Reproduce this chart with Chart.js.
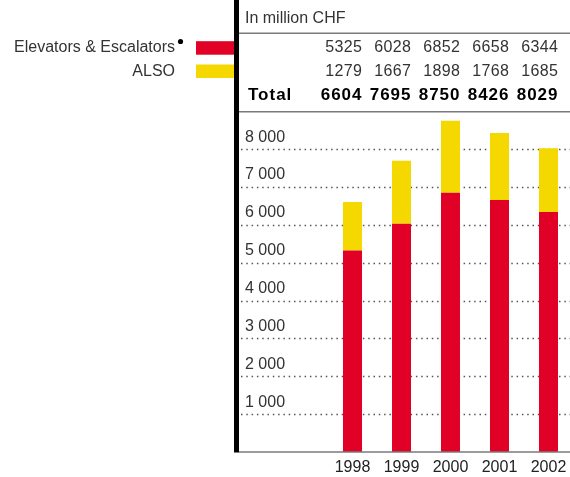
<!DOCTYPE html>
<html>
<head>
<meta charset="utf-8">
<script src="https://cdn.jsdelivr.net/npm/chart.js@4"></script>
<style>
  html, body { margin: 0; padding: 0; overflow: hidden; background: #fff; width: 570px; height: 477px; }
  #wrap { position: absolute; left: 0; top: 0; width: 580px; height: 477px; }
</style>
</head>
<body>
<div id="wrap"><canvas id="c"></canvas></div>
<script>
// ---- data ----
const years = ['1998', '1999', '2000', '2001', '2002'];
const seriesNames = ['Elevators & Escalators', 'ALSO'];
const elevators = [5325, 6028, 6852, 6658, 6344];
const also = [1279, 1667, 1898, 1768, 1685];
const totals = [6604, 7695, 8750, 8426, 8029];
const yTicks = [1000, 2000, 3000, 4000, 5000, 6000, 7000, 8000];
const unitTitle = 'In million CHF';
const totalLabel = 'Total';
const footnoteMark = '•';

const RED = '#e10026';
const YELLOW = '#f5d800';
const FONT = '"Liberation Sans", Arial, Helvetica, sans-serif';

function fmt(v) {
  const s = String(v);
  return s.length > 3 ? s.slice(0, s.length - 3) + ' ' + s.slice(-3) : s;
}

const decor = {
  id: 'decor',
  beforeDatasetsDraw(chart) {
    const ctx = chart.ctx;
    const y = chart.scales.y;
    ctx.save();
    // dotted gridlines
    ctx.strokeStyle = '#555';
    ctx.lineWidth = 1.3;
    ctx.setLineDash([1.5, 3.8]);
    yTicks.forEach(v => {
      const py = Math.round(y.getPixelForValue(v)) + 0.5;
      ctx.beginPath();
      ctx.moveTo(241, py);
      ctx.lineTo(572, py);
      ctx.stroke();
    });
    ctx.setLineDash([]);
    // tick labels
    ctx.fillStyle = '#333';
    ctx.font = '16px ' + FONT;
    ctx.textAlign = 'left';
    ctx.textBaseline = 'middle';
    yTicks.forEach(v => {
      const py = y.getPixelForValue(v);
      ctx.fillText(fmt(v), 245, py - 12);
    });
    ctx.restore();
  },
  afterDraw(chart) {
    const ctx = chart.ctx;
    const x = chart.scales.x;
    const y = chart.scales.y;
    ctx.save();
    // black vertical bar
    ctx.fillStyle = '#000';
    ctx.fillRect(234, 0, 5, y.getPixelForValue(0) + 0.5);
    // grey rules
    ctx.strokeStyle = '#7a7a7a';
    ctx.lineWidth = 1.6;
    [33.3, 111.8].forEach(py => {
      ctx.beginPath(); ctx.moveTo(239, py); ctx.lineTo(572, py); ctx.stroke();
    });
    ctx.beginPath();
    const by = y.getPixelForValue(0);
    ctx.moveTo(239, by); ctx.lineTo(572, by); ctx.stroke();

    // header
    ctx.fillStyle = '#333';
    ctx.font = '16px ' + FONT;
    ctx.textBaseline = 'middle';
    ctx.textAlign = 'left';
    ctx.fillText(unitTitle, 245, 18.5);

    // legend
    const rowsY = [48, 71.3];
    const colors = [RED, YELLOW];
    ctx.textAlign = 'right';
    seriesNames.forEach((n, i) => {
      ctx.fillStyle = '#333';
      ctx.font = '16px ' + FONT;
      ctx.fillText(n, 175, rowsY[i]);
      ctx.fillStyle = colors[i];
      ctx.fillRect(196, rowsY[i] - 6.8, 38, 13.5);
    });
    ctx.fillStyle = '#000';
    ctx.beginPath();
    ctx.arc(180.5, 41.5, 2.6, 0, Math.PI * 2);
    ctx.fill();

    // table values
    const meta = chart.getDatasetMeta(0);
    const rightOf = i => meta.data[i].x + meta.data[i].width / 2;
    ctx.textAlign = 'right';
    ctx.fillStyle = '#333';
    ctx.font = '16px ' + FONT;
    try { ctx.letterSpacing = '0.4px'; } catch (e) {}
    elevators.forEach((v, i) => ctx.fillText(String(v), rightOf(i) + 0.4, rowsY[0]));
    also.forEach((v, i) => ctx.fillText(String(v), rightOf(i) + 0.4, rowsY[1]));
    ctx.fillStyle = '#000';
    ctx.font = 'bold 17px ' + FONT;
    try { ctx.letterSpacing = '1px'; } catch (e) {}
    totals.forEach((v, i) => ctx.fillText(String(v), rightOf(i) + 0.5, 95.5));
    ctx.textAlign = 'left';
    ctx.fillText(totalLabel, 248, 95.5);
    try { ctx.letterSpacing = '0px'; } catch (e) {}
    ctx.restore();
  }
};

new Chart(document.getElementById('c'), {
  type: 'bar',
  data: {
    labels: years,
    datasets: [
      { label: seriesNames[0], data: elevators, backgroundColor: RED, borderWidth: 0 },
      { label: seriesNames[1], data: also, backgroundColor: YELLOW, borderWidth: 0 }
    ]
  },
  options: {
    responsive: true,
    maintainAspectRatio: false,
    animation: false,
    devicePixelRatio: 1,
    layout: { padding: { left: 328, right: 7, top: 111.4, bottom: 0 } },
    plugins: { legend: { display: false }, tooltip: { enabled: false } },
    datasets: { bar: { categoryPercentage: 1, barPercentage: 0.388 } },
    scales: {
      x: {
        stacked: true,
        grid: { display: false, drawTicks: false },
        border: { display: false },
        ticks: { color: '#222', font: { family: FONT, size: 16 }, padding: 6, maxRotation: 0 },
        afterFit: s => { s.height = 25; }
      },
      y: {
        stacked: true,
        display: false,
        min: 0,
        max: 9000
      }
    }
  },
  plugins: [decor]
});
</script>
</body>
</html>
